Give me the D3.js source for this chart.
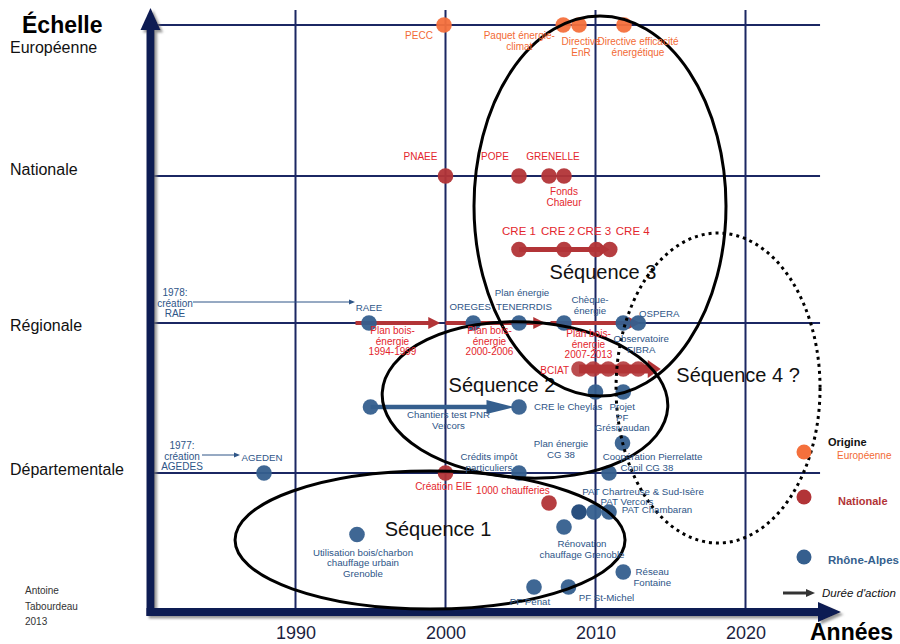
<!DOCTYPE html>
<html><head><meta charset="utf-8">
<script src="https://cdn.jsdelivr.net/npm/d3@7"></script>
<style>
body{margin:0;background:#fff}
svg{display:block}
text{font-family:"Liberation Sans",Arial,sans-serif}
</style>
</head><body>
<svg id="chart" width="900" height="644"></svg>
<script>
// ---------------- DATA ----------------
const yearTicks = [1990, 2000, 2010, 2020];
const scaleLevels = [1, 2, 3, 4];
const scaleNames = ["Départementale", "Régionale", "Nationale", "Européenne"];

const europeanEvents = [
  {name: "PECC", year: 1999.9, level: 4},
  {name: "Paquet énergie-climat", year: 2007.85, level: 4},
  {name: "Directive EnR", year: 2008.9, level: 4},
  {name: "Directive efficacité énergétique", year: 2011.9, level: 4}
];

const nationalEvents = [
  {name: "PNAEE", year: 2000, level: 3},
  {name: "POPE", year: 2004.9, level: 3},
  {name: "GRENELLE", year: 2006.9, level: 3},
  {name: "Fonds Chaleur", year: 2007.9, level: 3},
  {name: "CRE 1", year: 2004.9, level: 2.5},
  {name: "CRE 2", year: 2007.9, level: 2.5},
  {name: "CRE 3", year: 2010.05, level: 2.5},
  {name: "CRE 4", year: 2010.95, level: 2.5},
  {name: "Création EIE", year: 2000, level: 1},
  {name: "1000 chaufferies", year: 2006.9, level: 0.8}
];

const bciatYears = [2008.9, 2009.85, 2010.85, 2011.85, 2012.85];
const bciatLevel = 1.693;

const regionalEvents = [
  {name: "RAEE", year: 1994.9, level: 2},
  {name: "OREGES", year: 2001.85, level: 2},
  {name: "TENERRDIS", year: 2004.9, level: 2},
  {name: "Chèque-énergie", year: 2007.9, level: 2},
  {name: "Observatoire FIBRA", year: 2011.85, level: 2},
  {name: "OSPERA", year: 2012.85, level: 2},
  {name: "Chantiers test PNR Vercors", year: 1995, level: 1.44},
  {name: "CRE le Cheylas", year: 2004.9, level: 1.44},
  {name: "Projet (sans légende)", year: 2010, level: 1.54},
  {name: "Projet PF Grésivaudan", year: 2011.85, level: 1.54},
  {name: "Coopération Pierrelatte", year: 2011.8, level: 1.2},
  {name: "AGEDEN", year: 1987.9, level: 1},
  {name: "Crédits impôt particuliers", year: 2004.9, level: 1},
  {name: "Copil CG 38", year: 2010.9, level: 1},
  {name: "PAT Chartreuse & Sud-Isère", year: 2008.9, level: 0.74},
  {name: "PAT Vercors", year: 2009.9, level: 0.74},
  {name: "PAT Chambaran", year: 2010.9, level: 0.74},
  {name: "Rénovation chauffage Grenoble", year: 2007.9, level: 0.64},
  {name: "Réseau Fontaine", year: 2011.85, level: 0.34},
  {name: "PF Penat", year: 2005.9, level: 0.24},
  {name: "PF St-Michel", year: 2008.2, level: 0.24},
  {name: "Utilisation bois/charbon chauffage urbain Grenoble", year: 1994.1, level: 0.59}
];

const durations = [
  {name: "Plan bois-énergie 1994-1999", origin: "nat", start: 1994, end: 1999.65, level: 2},
  {name: "Plan bois-énergie 2000-2006", origin: "nat", start: 2000, end: 2006.65, level: 2},
  {name: "Plan bois-énergie 2007-2013", origin: "nat", start: 2007, end: 2013, level: 2},
  {name: "CRE", origin: "nat", start: 2004.9, end: 2010.95, level: 2.5},
  {name: "BCIAT", origin: "nat", start: 2008.9, end: 2014.35, level: bciatLevel},
  {name: "Chantiers PNR", origin: "reg", start: 1995, end: 2004.6, level: 1.44}
];

const sequences = [
  {name: "Séquence 1", yearFrom: 1985.97, yearTo: 2011.97, levelFrom: 0.093, levelTo: 1.013, dashed: false},
  {name: "Séquence 2", yearFrom: 1995.77, yearTo: 2014.83, levelFrom: 0.967, levelTo: 2.007, dashed: false},
  {name: "Séquence 3", yearFrom: 2001.9, yearTo: 2018.7, levelFrom: 1.513, levelTo: 4.06, dashed: false},
  {name: "Séquence 4 ?", yearFrom: 2011.37, yearTo: 2024.97, levelFrom: 0.533, levelTo: 2.612, dashed: true}
];

// ---------------- LAYOUT / STYLE ----------------
const colors = {
  eu: {dot: "#f4703c", text: "#f26a35"},
  nat: {dot: "#b23437", text: "#e3262d"},
  reg: {dot: "#355f8e", text: "#2e5587"}
};
const labelSize = {eu: 10, nat: 10, reg: 9.7};
const navy = "#0d1a52";
const gridColor = "#1b2763";
const axisX = 150.5, axisY = 612;
const FONT = '"Liberation Sans", Arial, sans-serif';

const x = d3.scaleLinear().domain([1980, 2030]).range([145.5, 895.5]);
const y = d3.scaleLinear().domain([0, 1, 2, 3, 4]).range([623, 473, 323, 176, 25]);

const levelLabelDy = [2, 8, -1, 28];

// label offsets (px) relative to their mark
const eventLabels = [
  {of: "PECC", text: "PECC", dx: -25, dy: 14},
  {of: "Paquet énergie-climat", text: "Paquet énergie-|climat", dx: -44, dy: 14},
  {of: "Directive EnR", text: "Directive|EnR", dx: 2, dy: 20},
  {of: "Directive efficacité énergétique", text: "Directive efficacité|énergétique", dx: 14, dy: 20},
  {of: "PNAEE", text: "PNAEE", dx: -25, dy: -16},
  {of: "POPE", text: "POPE", dx: -24, dy: -16},
  {of: "GRENELLE", text: "GRENELLE", dx: 4, dy: -16},
  {of: "Fonds Chaleur", text: "Fonds|Chaleur", dx: 0, dy: 19},
  {of: "CRE 1", text: "CRE 1", dx: 0, dy: -15, size: 11.5},
  {of: "CRE 2", text: "CRE 2", dx: -6, dy: -15, size: 11.5},
  {of: "CRE 3", text: "CRE 3", dx: -2, dy: -15, size: 11.5},
  {of: "CRE 4", text: "CRE 4", dx: 23, dy: -15, size: 11.5},
  {of: "Création EIE", text: "Création EIE", dx: -2, dy: 17},
  {of: "1000 chaufferies", text: "1000 chaufferies", dx: -36, dy: -9},
  {of: "BCIAT", text: "BCIAT", dx: -10, dy: 5, anchor: "end"},
  {of: "Plan bois-énergie 1994-1999", text: "Plan bois-|énergie|1994-1999", dx: 37, dy: 11},
  {of: "Plan bois-énergie 2000-2006", text: "Plan bois-|énergie|2000-2006", dx: 44, dy: 11},
  {of: "Plan bois-énergie 2007-2013", text: "Plan bois-|énergie|2007-2013", dx: 38, dy: 14},
  {of: "RAEE", text: "RAEE", dx: 0, dy: -12},
  {of: "OREGES", text: "OREGES", dx: -3, dy: -13},
  {of: "TENERRDIS", text: "TENERRDIS", dx: 5, dy: -13},
  {of: "TENERRDIS", text: "Plan énergie", dx: 3, dy: -27},
  {of: "Chèque-énergie", text: "Chèque-|énergie", dx: 26, dy: -20},
  {of: "OSPERA", text: "OSPERA", dx: 21, dy: -6},
  {of: "Observatoire FIBRA", text: "Observatoire|FIBRA", dx: 18, dy: 19},
  {of: "CRE le Cheylas", text: "CRE le Cheylas", dx: 15, dy: 3, anchor: "start"},
  {of: "Chantiers test PNR Vercors", text: "Chantiers test PNR|Vercors", dx: 78, dy: 11},
  {of: "Projet PF Grésivaudan", text: "Projet|PF|Grésivaudan", dx: -1, dy: 18},
  {of: "Coopération Pierrelatte", text: "Coopération Pierrelatte", dx: 30, dy: 17},
  {of: "Copil CG 38", text: "Copil CG 38", dx: 38, dy: -2},
  {of: "Copil CG 38", text: "Plan énergie|CG 38", dx: -48, dy: -26},
  {of: "Crédits impôt particuliers", text: "Crédits impôt|particuliers", dx: -30, dy: -13},
  {of: "AGEDEN", text: "AGEDEN", dx: -2, dy: -12},
  {of: "PAT Chartreuse & Sud-Isère", text: "PAT Chartreuse & Sud-Isère", dx: 64, dy: -17},
  {of: "PAT Vercors", text: "PAT Vercors", dx: 33, dy: -7},
  {of: "PAT Chambaran", text: "PAT Chambaran", dx: 48, dy: 1},
  {of: "Rénovation chauffage Grenoble", text: "Rénovation|chauffage Grenoble", dx: 18, dy: 20},
  {of: "Réseau Fontaine", text: "Réseau|Fontaine", dx: 29, dy: 3},
  {of: "PF Penat", text: "PF Penat", dx: -4, dy: 18},
  {of: "PF St-Michel", text: "PF St-Michel", dx: 38, dy: 14},
  {of: "Utilisation bois/charbon chauffage urbain Grenoble", text: "Utilisation bois/charbon|chauffage urbain|Grenoble", dx: 6, dy: 21}
];

const notes = [
  {of: "RAEE", text: "1978:|création|RAE", dx: -194, dy: -27, ax1: -176, ax2: -14, ay: -21},
  {of: "AGEDEN", text: "1977:|création|AGEDES", dx: -82, dy: -24, ax1: -62, ax2: -24, ay: -18}
];

const arrowStyles = {
  "Plan bois-énergie 1994-1999": {w: 4, hl: 12, hh: 6},
  "Plan bois-énergie 2000-2006": {w: 4, hl: 12, hh: 6},
  "Plan bois-énergie 2007-2013": {w: 4, hl: 12, hh: 6},
  "CRE": {w: 5, hl: 10, hh: 6},
  "BCIAT": {w: 9, hl: 13, hh: 9},
  "Chantiers PNR": {w: 4.5, hl: 28, hh: 7}
};
const seqLabelOffsets = {"Séquence 1": [8, -4], "Séquence 2": [-23, -8], "Séquence 3": [3, 73], "Séquence 4 ?": [20, -6]};
const seqRotation = {"Séquence 2": 3};
const darkDots = ["PAT Chartreuse & Sud-Isère"];

// ---------------- DRAW ----------------
const svg = d3.select("#chart");
const defs = svg.append("defs");
const f = defs.append("filter").attr("id", "sh").attr("x", "-5%").attr("y", "-5%").attr("width", "115%").attr("height", "115%");
f.append("feDropShadow").attr("dx", 2.5).attr("dy", 2.5).attr("stdDeviation", 1.2).attr("flood-color", "#777").attr("flood-opacity", 0.75);

function addText(g, str, px, py, o) {
  const lines = str.split("|");
  const t = g.append("text").attr("x", px).attr("y", py)
    .attr("text-anchor", o.anchor || "middle")
    .attr("font-size", o.size || 10)
    .attr("font-weight", o.weight || null)
    .attr("font-style", o.style || null)
    .attr("fill", o.color || "#000")
    .style("font-family", FONT);
  lines.forEach((ln, i) => t.append("tspan").attr("x", px).attr("y", py + i * (o.lh || 10.5)).text(ln));
  return t;
}

// gridlines
const grid = svg.append("g");
grid.selectAll("line.v").data(yearTicks).join("line").attr("class", "v")
  .attr("x1", d => x(d)).attr("x2", d => x(d)).attr("y1", 10).attr("y2", axisY)
  .attr("stroke", gridColor).attr("stroke-width", 2);
grid.selectAll("line.h").data(scaleLevels).join("line").attr("class", "h")
  .attr("x1", axisX).attr("x2", x(2024.97)).attr("y1", d => y(d)).attr("y2", d => y(d))
  .attr("stroke", gridColor).attr("stroke-width", 2);

// main axes (thick arrows)
const ax = svg.append("g").attr("filter", "url(#sh)");
ax.append("rect").attr("x", axisX - 4).attr("y", 26).attr("width", 8).attr("height", axisY + 4 - 26).attr("fill", navy);
ax.append("path").attr("d", `M${axisX - 10},30L${axisX},8L${axisX + 10},30Z`).attr("fill", navy);
ax.append("rect").attr("x", axisX - 4).attr("y", axisY - 4).attr("width", 820 - axisX + 4).attr("height", 8).attr("fill", navy);
ax.append("path").attr("d", `M818,${axisY - 10}L841,${axisY}L818,${axisY + 10}Z`).attr("fill", navy);

// year tick labels
const xAxisG = svg.append("g").attr("transform", `translate(0,${axisY})`)
  .call(d3.axisBottom(x).tickValues(yearTicks).tickFormat(d3.format("d")).tickSize(0).tickPadding(14));
xAxisG.select(".domain").remove();
xAxisG.attr("font-family", FONT).attr("font-size", 18);
xAxisG.selectAll("text").attr("fill", "#1c1f3f").style("font-family", FONT);

// level labels
const lvG = svg.append("g");
scaleLevels.forEach((lv, i) => addText(lvG, scaleNames[i], 10, y(lv) + levelLabelDy[i], {anchor: "start", size: 16, color: "#111"}));
addText(svg, "Échelle", 22, 33, {anchor: "start", size: 23, weight: "bold", color: "#000"});
addText(svg, "Années", 810, 640, {anchor: "start", size: 23, weight: "bold", color: "#000"});
addText(svg, "Antoine|Tabourdeau|2013", 25, 594, {anchor: "start", size: 10, color: "#333", lh: 15.5});

// positions
const all = [
  ...europeanEvents.map(d => ({...d, origin: "eu"})),
  ...nationalEvents.map(d => ({...d, origin: "nat"})),
  ...regionalEvents.map(d => ({...d, origin: "reg"}))
];
const pos = new Map();
all.forEach(d => pos.set(d.name, {x: x(d.year), y: y(d.level), origin: d.origin}));
durations.forEach(d => pos.set(d.name, {x: x(d.start), y: y(d.level), origin: d.origin}));

// duration arrows
const durG = svg.append("g");
durations.forEach(d => {
  const s = arrowStyles[d.name];
  const c = colors[d.origin].dot;
  const x1 = x(d.start), x2 = x(d.end), yy = y(d.level);
  durG.append("line").attr("x1", x1).attr("x2", x2 - s.hl + 1).attr("y1", yy).attr("y2", yy)
    .attr("stroke", c).attr("stroke-width", s.w);
  durG.append("path").attr("d", `M${x2 - s.hl},${yy - s.hh}L${x2},${yy}L${x2 - s.hl},${yy + s.hh}Z`).attr("fill", c);
});

// dots
const dotG = svg.append("g");
dotG.selectAll("circle.b").data(bciatYears).join("circle").attr("class", "b")
  .attr("cx", d => x(d)).attr("cy", y(bciatLevel)).attr("r", 7.8)
  .attr("fill", colors.nat.dot).attr("opacity", 0.88);
dotG.selectAll("circle.e").data(all).join("circle").attr("class", "e")
  .attr("cx", d => x(d.year)).attr("cy", d => y(d.level)).attr("r", 7.8)
  .attr("fill", d => darkDots.includes(d.name) ? "#1d4677" : colors[d.origin].dot)
  .attr("opacity", 0.95);

// sequences (ellipses)
const seqG = svg.append("g");
sequences.forEach(s => {
  const x0 = x(s.yearFrom), x1 = x(s.yearTo), y0 = y(s.levelTo), y1 = y(s.levelFrom);
  const cx = (x0 + x1) / 2, cy = (y0 + y1) / 2;
  const rot = seqRotation[s.name] || 0;
  seqG.append("ellipse").attr("cx", cx).attr("cy", cy).attr("rx", (x1 - x0) / 2).attr("ry", (y1 - y0) / 2)
    .attr("transform", `rotate(${rot},${cx},${cy})`)
    .attr("fill", "none").attr("stroke", "#000").attr("stroke-width", 3)
    .attr("stroke-dasharray", s.dashed ? "3,4" : null);
  const off = seqLabelOffsets[s.name];
  addText(seqG, s.name, cx + off[0], cy + off[1], {size: 20, color: "#111"});
});

// notes with thin arrows
const noteG = svg.append("g");
notes.forEach(n => {
  const p = pos.get(n.of);
  const c = colors[p.origin].text;
  addText(noteG, n.text, p.x + n.dx, p.y + n.dy, {size: 10, color: c, lh: 10.5});
  const ya = p.y + n.ay;
  noteG.append("line").attr("x1", p.x + n.ax1).attr("x2", p.x + n.ax2 - 5).attr("y1", ya).attr("y2", ya)
    .attr("stroke", c).attr("stroke-width", 1);
  noteG.append("path").attr("d", `M${p.x + n.ax2 - 6},${ya - 2.5}L${p.x + n.ax2},${ya}L${p.x + n.ax2 - 6},${ya + 2.5}Z`).attr("fill", c);
});

// event labels
const labG = svg.append("g");
eventLabels.forEach(l => {
  const p = pos.get(l.of);
  addText(labG, l.text, p.x + l.dx, p.y + l.dy, {size: l.size || labelSize[p.origin], color: colors[p.origin].text, anchor: l.anchor, lh: 10.5});
});

// legend
const lg = svg.append("g");
addText(lg, "Origine", 828, 446, {anchor: "start", size: 11, weight: "bold", color: "#111"});
lg.append("circle").attr("cx", 804).attr("cy", 452).attr("r", 7.5).attr("fill", colors.eu.dot);
addText(lg, "Européenne", 837, 459, {anchor: "start", size: 10, color: colors.eu.text});
lg.append("circle").attr("cx", 804).attr("cy", 497).attr("r", 7.5).attr("fill", colors.nat.dot);
addText(lg, "Nationale", 838, 505, {anchor: "start", size: 11, weight: "bold", color: colors.nat.dot});
lg.append("circle").attr("cx", 804).attr("cy", 557).attr("r", 7.5).attr("fill", colors.reg.dot);
addText(lg, "Rhône-Alpes", 828, 564, {anchor: "start", size: 11.5, weight: "bold", color: colors.reg.dot});
lg.append("line").attr("x1", 783).attr("x2", 807).attr("y1", 593).attr("y2", 593).attr("stroke", "#333").attr("stroke-width", 3);
lg.append("path").attr("d", "M806,589L815,593L806,597Z").attr("fill", "#333");
addText(lg, "Durée d'action", 822, 597, {anchor: "start", size: 11.5, style: "italic", color: "#111"});
</script>
</body></html>
